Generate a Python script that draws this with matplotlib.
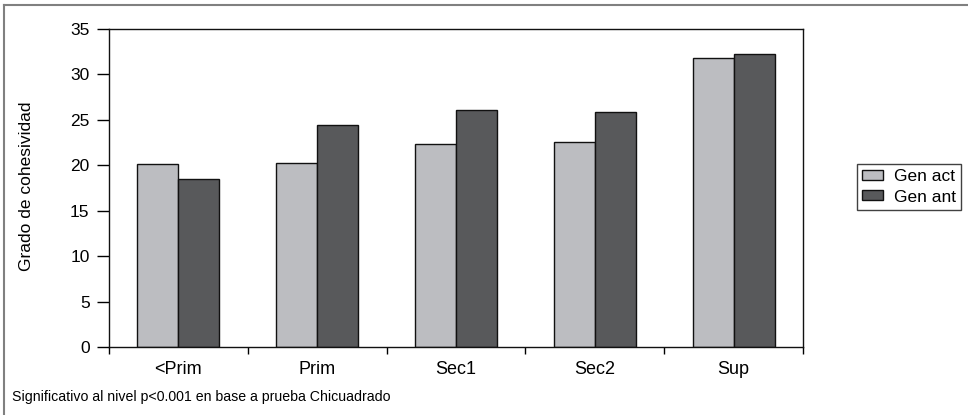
import matplotlib
matplotlib.use("Agg")
import matplotlib.pyplot as plt
import numpy as np
from matplotlib.lines import Line2D

categories = ["<Prim", "Prim", "Sec1", "Sec2", "Sup"]
gen_act = [20.1, 20.25, 22.35, 22.6, 31.8]
gen_ant = [18.45, 24.4, 26.1, 25.85, 32.2]
series_names = ["Gen act", "Gen ant"]
yticks = [0, 5, 10, 15, 20, 25, 30, 35]

plt.rcParams['font.family'] = ['Liberation Sans Narrow', 'Liberation Sans', 'DejaVu Sans']

W, H = 968, 415
fig = plt.figure(figsize=(W / 100, H / 100), dpi=100)
ax = fig.add_axes([109 / W, 68 / H, (803 - 109) / W, (347 - 29) / H])

x = np.arange(len(categories))
bw = 0.295
ax.bar(x - bw / 2, gen_act, bw, color="#bcbdc1", edgecolor="#111111", linewidth=1.0, label=series_names[0])
ax.bar(x + bw / 2, gen_ant, bw, color="#58595b", edgecolor="#111111", linewidth=1.0, label=series_names[1])

ax.set_xlim(-0.5, len(categories) - 0.5)
ax.set_ylim(0, 35)
ax.set_yticks(yticks)
ax.set_yticklabels([str(v) for v in yticks], fontsize=12.5)
ax.set_xticks(x)
ax.set_xticklabels(categories, fontsize=13)
ax.set_xticks(np.arange(-0.5, len(categories)), minor=True)
ax.tick_params(axis='x', which='major', length=0, pad=10)
ax.tick_params(axis='x', which='minor', length=5, width=1, direction='out')
ax.tick_params(axis='y', length=9, width=1, direction='out', pad=5)
for s in ax.spines.values():
    s.set_linewidth(1.0)
    s.set_color("#111111")

fig.text(27 / W, 1 - 186 / H, "Grado de cohesividad", rotation=90, ha='center', va='center', fontsize=12.5)
fig.text(12 / W, 1 - 397 / H, "Significativo al nivel p<0.001 en base a prueba Chicuadrado", ha='left', va='center', fontsize=10.2)

leg = fig.legend(loc='center', bbox_to_anchor=(909 / W, 1 - 187 / H), fontsize=12.5, frameon=True,
                 fancybox=False, edgecolor="#111111", handlelength=1.2, handleheight=0.5,
                 handletextpad=0.6, borderpad=0.3, labelspacing=0.3, borderaxespad=0)
leg.get_frame().set_linewidth(1.0)

# outer gray border
fig.add_artist(Line2D([4 / W, 4 / W], [0, 1 - 5 / H], color="#808080", linewidth=1.5, transform=fig.transFigure))
fig.add_artist(Line2D([4 / W, 1], [1 - 5 / H, 1 - 5 / H], color="#808080", linewidth=1.5, transform=fig.transFigure))

fig.savefig("out.png", dpi=100)
